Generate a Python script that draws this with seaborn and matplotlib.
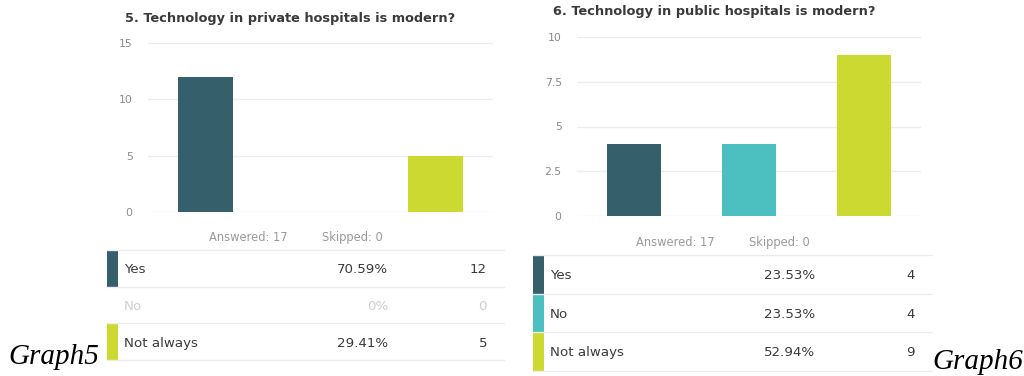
import numpy as np
import pandas as pd
import matplotlib
matplotlib.use("Agg")
import matplotlib.pyplot as plt
import seaborn as sns

# Survey answers
categories = ["Yes", "No", "Not always"]
private_counts = [12, 0, 5]
public_counts = [4, 4, 9]
private_skipped = 0
public_skipped = 0

private_title = "5. Technology in private hospitals is modern?"
public_title = "6. Technology in public hospitals is modern?"
private_ticks = [0, 5, 10, 15]
public_ticks = [0, 2.5, 5, 7.5, 10]
private_tick_labels = ["0", "5", "10", "15"]
public_tick_labels = ["0", "2.5", "5", "7.5", "10"]
captions = ["Graph5", "Graph6"]

colors = {"Yes": "#365F6C", "No": "#4CBFC0", "Not always": "#CCD930"}

sns.set_theme(style="white")
plt.rcParams["font.family"] = ["DejaVu Sans"]

W, H = 1024, 376
fig = plt.figure(figsize=(W / 100, H / 100), dpi=100)
fig.patch.set_facecolor("white")


def px_axes(x0, y0, x1, y1, **kw):
    """Axes placed by pixel box (top-left origin)."""
    return fig.add_axes([x0 / W, 1 - y1 / H, (x1 - x0) / W, (y1 - y0) / H], **kw)


# Overlay for titles, table and captions, in pixel units
ov = fig.add_axes([0, 0, 1, 1], zorder=5)
ov.set_xlim(0, W)
ov.set_ylim(H, 0)
ov.axis("off")
ov.patch.set_alpha(0)


def panel(counts, skipped, title, ticks, tick_labels, box, title_xy,
          answered_xy, table):
    df = pd.DataFrame({"answer": categories, "count": counts})
    ax = px_axes(*box)
    sns.barplot(data=df, x="answer", y="count", hue="answer",
                palette=colors, order=categories, hue_order=categories,
                width=0.47, saturation=1, legend=False, ax=ax,
                edgecolor="none")
    ax.set_ylim(0, ticks[-1])
    ax.set_xlim(-0.5, len(categories) - 0.5)
    ax.set_yticks(ticks)
    ax.set_yticklabels(tick_labels)
    ax.set_xticks([])
    ax.set_xlabel("")
    ax.set_ylabel("")
    ax.yaxis.grid(True, color="#ececec", lw=1)
    ax.set_axisbelow(True)
    for s in ax.spines.values():
        s.set_visible(False)
    ax.tick_params(axis="y", length=0, pad=11, labelsize=7.8,
                   labelcolor="#8a8a8a")
    ax.set_facecolor("white")

    ov.text(title_xy[0], title_xy[1], title, ha="center",
            va="center_baseline", fontsize=9.3, fontweight="bold",
            color="#3a3a3a")

    total = sum(counts)
    ax_, ay_ = answered_xy
    ov.text(ax_, ay_, f"Answered: {total}", ha="left", va="center_baseline",
            fontsize=8.3, color="#9a9a9a")
    ov.text(ax_ + 113, ay_, f"Skipped: {skipped}", ha="left",
            va="center_baseline", fontsize=8.3, color="#9a9a9a")

    x0, x1, top, rh, strip_w, pct_x, cnt_x = table
    ov.plot([x0, x1], [top, top], color="#ececec", lw=1)
    for i, (cat, c) in enumerate(zip(categories, counts)):
        y0 = top + i * rh
        y1 = y0 + rh
        ov.plot([x0, x1], [y1, y1], color="#ececec", lw=1)
        if c > 0:
            ov.add_patch(plt.Rectangle((x0, y0), strip_w, rh,
                                       color=colors[cat], lw=0))
            tc = "#3a3a3a"
        else:
            tc = "#cfcfcf"
        pct = 100 * c / total
        ptxt = "0%" if c == 0 else f"{pct:.2f}%"
        yc = (y0 + y1) / 2
        ov.text(x0 + strip_w + 6, yc, cat, ha="left", va="center_baseline",
                fontsize=9.6, color=tc)
        ov.text(pct_x, yc, ptxt, ha="right", va="center_baseline",
                fontsize=9.6, color=tc)
        ov.text(cnt_x, yc, str(c), ha="right", va="center_baseline",
                fontsize=9.6, color=tc)


panel(private_counts, private_skipped, private_title, private_ticks,
      private_tick_labels, (148, 43, 493, 212), (290, 17), (209, 236),
      (107, 504, 250, 36.7, 11, 388, 487))
panel(public_counts, public_skipped, public_title, public_ticks,
      public_tick_labels, (577, 37, 921, 216), (714, 10), (636, 241),
      (533, 932, 255, 38.5, 11, 815, 915))

ov.text(8, 364, captions[0], ha="left", va="baseline", fontsize=21,
        fontstyle="italic", family=["Liberation Serif", "DejaVu Serif"],
        color="black")
ov.text(932, 369, captions[1], ha="left", va="baseline", fontsize=21,
        fontstyle="italic", family=["Liberation Serif", "DejaVu Serif"],
        color="black")

fig.savefig("out.png", dpi=100, facecolor="white")
